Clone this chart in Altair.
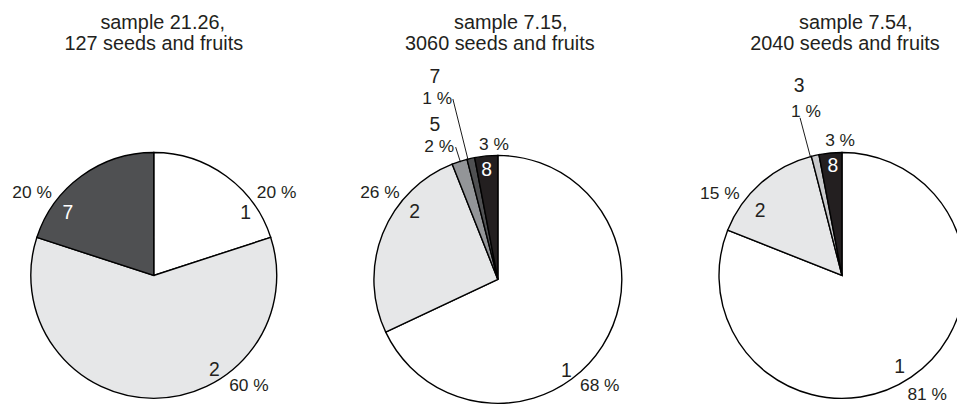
import altair as alt
import pandas as pd

# ---------------- data ----------------
SAMPLES = ["21.26", "7.15", "7.54"]
COUNTS = [127, 3060, 2040]
CATS = [["1", "2", "7"], ["1", "2", "5", "7", "8"], ["1", "2", "3", "8"]]
SHARES = [[20, 60, 20], [68, 26, 2, 1, 3], [81, 15, 1, 3]]

CAT_DOMAIN = ["1", "2", "3", "5", "7", "8"]
CAT_COLORS = ["#ffffff", "#e6e7e8", "#c8c9cb", "#939598", "#4f5052", "#231f20"]
INK = "#231f20"

# ---------------- layout (pixels) ----------------
CX = [147, 494, 841]
CY = [268, 272, 268]
RAD = [124, 125, 124]
TITLE_X = [[156, 147], [507, 496], [855, 844]]
TITLE_Y = [19, 41]
# label placement: (angle in degrees clockwise from 12 o'clock, distance from centre)
NUM_POS = [
    [(55.9, 112), (147.3, 113), (305.9, 107)],
    [(143.1, 115), (309.0, 108), (337.8, 168), (342.7, 214), (354.1, 111)],
    [(147.8, 109), (308.1, 105), (347.3, 196), (355.3, 111)],
]
PCT_POS = [
    [(56.2, 149), (139.4, 147.5), (304.0, 148)],
    [(136.4, 149), (306.2, 147.4), (336.1, 146), (341.4, 192), (358.3, 136)],
    [(144.6, 148.4), (303.7, 148), (347.6, 169), (359.2, 136)],
]
# leader lines: (pie index, angle deg, inner radius, outer radius)
LEADERS = [(1, 342.3, 124, 140), (1, 346.0, 124, 187.5), (2, 345.1, 123, 164.5)]

FONT = "Liberation Sans"

slice_rows, num_rows, pct_rows, title_rows, leader_rows = [], [], [], [], []
for p in range(3):
    for k, (c, v) in enumerate(zip(CATS[p], SHARES[p])):
        slice_rows.append(dict(pie=p, k=k, cat=c, share=v, cx=CX[p], cy=CY[p], R=RAD[p]))
        a, r = NUM_POS[p][k]
        num_rows.append(dict(pie=p, cat=c, txt=c, ang=a, r=r, cx=CX[p], cy=CY[p], R=RAD[p]))
        a, r = PCT_POS[p][k]
        pct_rows.append(dict(pie=p, cat=c, txt=f"{v} %", ang=a, r=r, cx=CX[p], cy=CY[p]))
    title_rows.append(dict(txt=f"sample {SAMPLES[p]},", x=TITLE_X[p][0], y=TITLE_Y[0]))
    title_rows.append(dict(txt=f"{COUNTS[p]} seeds and fruits", x=TITLE_X[p][1], y=TITLE_Y[1]))
for p, a, r1, r2 in LEADERS:
    leader_rows.append(dict(pie=p, ang=a, r1=r1, r2=r2, cx=CX[p], cy=CY[p]))

slices = pd.DataFrame(slice_rows)
nums = pd.DataFrame(num_rows)
pcts = pd.DataFrame(pct_rows)
titles = pd.DataFrame(title_rows)
leaders = pd.DataFrame(leader_rows)

theta_scale = alt.Scale(domain=[0, 100])
X = lambda f: alt.X(f, scale=None, axis=None)
Y = lambda f: alt.Y(f, scale=None, axis=None)

arcs = (
    alt.Chart(slices)
    .transform_window(end="sum(share)", groupby=["pie"], sort=[alt.SortField("k")], frame=[None, 0])
    .transform_calculate(start="datum.end - datum.share")
    .mark_arc(stroke="#000000", strokeWidth=1.4)
    .encode(
        theta=alt.Theta("start:Q", scale=theta_scale),
        theta2="end:Q",
        radius=alt.Radius("R:Q", scale=None),
        x=X("cx:Q"),
        y=Y("cy:Q"),
        color=alt.Color("cat:N", scale=alt.Scale(domain=CAT_DOMAIN, range=CAT_COLORS), legend=None),
    )
)

lead = (
    alt.Chart(leaders)
    .transform_calculate(
        xa="datum.cx + datum.r1 * sin(datum.ang * PI / 180)",
        ya="datum.cy - datum.r1 * cos(datum.ang * PI / 180)",
        xb="datum.cx + datum.r2 * sin(datum.ang * PI / 180)",
        yb="datum.cy - datum.r2 * cos(datum.ang * PI / 180)",
    )
    .mark_rule(color="#000000", strokeWidth=0.9)
    .encode(x=X("xa:Q"), y=Y("ya:Q"), x2="xb:Q", y2="yb:Q")
)

num_text = (
    alt.Chart(nums)
    .transform_calculate(
        pos="datum.ang / 3.6",
        dark="(datum.cat == '7' || datum.cat == '8') && datum.r < datum.R ? 1 : 0",
    )
    .mark_text(font=FONT, fontSize=19.5, align="center", baseline="middle")
    .encode(
        theta=alt.Theta("pos:Q", scale=theta_scale, stack=False),
        radius=alt.Radius("r:Q", scale=None),
        x=X("cx:Q"),
        y=Y("cy:Q"),
        text="txt:N",
        color=alt.when(alt.datum.dark == 1).then(alt.value("#ffffff")).otherwise(alt.value(INK)),
    )
)

pct_text = (
    alt.Chart(pcts)
    .transform_calculate(pos="datum.ang / 3.6")
    .mark_text(font=FONT, fontSize=17.5, align="center", baseline="middle", color=INK)
    .encode(
        theta=alt.Theta("pos:Q", scale=theta_scale, stack=False),
        radius=alt.Radius("r:Q", scale=None),
        x=X("cx:Q"),
        y=Y("cy:Q"),
        text="txt:N",
    )
)

title_text = (
    alt.Chart(titles)
    .mark_text(font=FONT, fontSize=20, align="center", baseline="alphabetic", color=INK)
    .encode(x=X("x:Q"), y=Y("y:Q"), text="txt:N")
)

chart = (
    alt.layer(arcs, lead, num_text, pct_text, title_text)
    .properties(width=957, height=397, autosize=alt.AutoSizeParams(type="none"), padding=0)
    .configure_view(stroke=None)
)

chart.save("out.html", embed_options={"renderer": "svg", "actions": False})
